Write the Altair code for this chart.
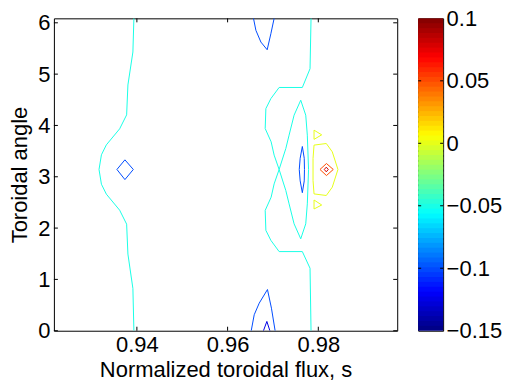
import altair as alt
import pandas as pd
import numpy as np

# ---- contour paths (s, toroidal angle) ----
left_cyan_s = [0.93934, 0.93912, 0.93802, 0.93774, 0.93620, 0.93327, 0.93218, 0.93165,
               0.93218, 0.93327, 0.93620, 0.93774, 0.93802, 0.93912, 0.93934]
left_cyan_t = [6.087, 5.431, 4.789, 4.206, 3.934, 3.622, 3.428, 3.142,
               2.855, 2.661, 2.349, 2.077, 1.494, 0.823, 0.0]

left_blue_s = [0.93560, 0.93736, 0.93921, 0.93736, 0.93560]
left_blue_t = [3.142, 3.330, 3.142, 2.945, 3.142]

top_blue_s = [0.96571, 0.96624, 0.96734, 0.96873, 0.96954, 0.97026]
top_blue_t = [6.087, 5.853, 5.625, 5.475, 5.787, 6.087]

bot_blue_s = [0.96521, 0.96587, 0.96697, 0.96879, 0.96967, 0.97048]
bot_blue_t = [0.0, 0.311, 0.537, 0.803, 0.439, 0.0]

bot_dark_s = [0.96791, 0.96866, 0.96932]
bot_dark_t = [0.0, 0.181, 0.0]

outer_cyan_s = [0.97840, 0.97818, 0.97648, 0.97136, 0.96954, 0.96844, 0.96829, 0.96960,
                0.97026, 0.97136, 0.97026, 0.96960, 0.96829, 0.96844, 0.96954, 0.97136,
                0.97648, 0.97818, 0.97840]
outer_cyan_t = [6.087, 5.106, 4.740, 4.740, 4.523, 4.328, 3.939, 3.681,
                3.422, 3.142, 2.861, 2.602, 2.345, 1.956, 1.761, 1.542,
                1.542, 1.217, 0.0]

lens_cyan_s = [0.97136, 0.97284, 0.97356, 0.97466, 0.97613, 0.97723, 0.97758, 0.97785,
               0.97758, 0.97723, 0.97613, 0.97466, 0.97356, 0.97284, 0.97136]
lens_cyan_t = [3.142, 3.551, 3.811, 4.200, 4.492, 4.200, 3.811, 3.142,
               2.472, 2.083, 1.791, 2.083, 2.472, 2.732, 3.142]

lens_blue_s = [0.97648, 0.97690, 0.97695, 0.97690, 0.97648, 0.97600, 0.97580, 0.97600, 0.97648]
lens_blue_t = [3.590, 3.360, 3.142, 2.920, 2.690, 2.920, 3.142, 3.360, 3.590]

yellow_s = [0.97906, 0.98176, 0.98308, 0.98433, 0.98308, 0.98176, 0.97906, 0.97884, 0.97884, 0.97906]
yellow_t = [3.617, 3.648, 3.486, 3.142, 2.797, 2.635, 2.666, 2.927, 3.356, 3.617]

ytri_top_s = [0.97906, 0.98075, 0.97906, 0.97906]
ytri_top_t = [3.908, 3.817, 3.729, 3.908]

ytri_bot_s = [0.97906, 0.98075, 0.97906, 0.97906]
ytri_bot_t = [2.547, 2.450, 2.372, 2.547]

orange_s = [0.98037, 0.98180, 0.98330, 0.98180, 0.98037]
orange_t = [3.142, 3.258, 3.142, 3.024, 3.142]

dred_s = [0.98132, 0.98176, 0.98220, 0.98176, 0.98132]
dred_t = [3.142, 3.187, 3.142, 3.096, 3.142]

paths = [
    ("left_cyan", -0.05, left_cyan_s, left_cyan_t),
    ("left_blue", -0.10, left_blue_s, left_blue_t),
    ("top_blue", -0.10, top_blue_s, top_blue_t),
    ("bot_blue", -0.10, bot_blue_s, bot_blue_t),
    ("bot_dark", -0.125, bot_dark_s, bot_dark_t),
    ("outer_cyan", -0.05, outer_cyan_s, outer_cyan_t),
    ("lens_cyan", -0.05, lens_cyan_s, lens_cyan_t),
    ("lens_blue", -0.10, lens_blue_s, lens_blue_t),
    ("yellow", 0.0, yellow_s, yellow_t),
    ("ytri_top", 0.0, ytri_top_s, ytri_top_t),
    ("ytri_bot", 0.0, ytri_bot_s, ytri_bot_t),
    ("orange", 0.05, orange_s, orange_t),
    ("dred", 0.08, dred_s, dred_t),
]

x_ticks = [0.94, 0.96, 0.98]
y_ticks = [0, 1, 2, 3, 4, 5, 6]
cb_ticks = [-0.15, -0.1, -0.05, 0, 0.05, 0.1]

rows = []
for name, lev, ss, tt in paths:
    for i, (s, t) in enumerate(zip(ss, tt)):
        rows.append({"path": name, "level": lev, "s": s, "theta": t, "idx": i})
df = pd.DataFrame(rows)

FONT = "Liberation Sans"
FS = 22
W, H = 344, 313
XDOM = [0.9217, 0.9974]
YDOM = [0, 6.087]
CDOM = [-0.15, -0.11875, -0.05625, 0.00625, 0.06875, 0.1]
CRANGE = ["#000080", "#0000ff", "#00ffff", "#ffff00", "#ff0000", "#800000"]

xs = alt.Scale(domain=XDOM, nice=False, zero=False)
ys = alt.Scale(domain=YDOM, nice=False, zero=False)
cs = alt.Scale(domain=CDOM, range=CRANGE, interpolate="rgb")

lines = alt.Chart(df).mark_line(strokeWidth=1, clip=True).encode(
    x=alt.X("s:Q", scale=xs, title="Normalized toroidal flux, s",
            axis=alt.Axis(values=x_ticks, format=".2f", ticks=False, domain=False, grid=False,
                          labelPadding=4, titlePadding=4)),
    y=alt.Y("theta:Q", scale=ys, title="Toroidal angle",
            axis=alt.Axis(values=y_ticks, format="d", ticks=False, domain=False, grid=False,
                          labelPadding=4, titlePadding=6)),
    color=alt.Color("level:Q", scale=cs, legend=None),
    detail="path:N",
    order="idx:Q",
)

xt = pd.DataFrame({"v": x_ticks})
yt = pd.DataFrame({"v": y_ticks})
tk = 4
xt_bot = alt.Chart(xt).mark_rule(color="black").encode(
    x=alt.X("v:Q", scale=xs), y=alt.value(H - tk), y2=alt.value(H))
xt_top = alt.Chart(xt).mark_rule(color="black").encode(
    x=alt.X("v:Q", scale=xs), y=alt.value(0), y2=alt.value(tk))
yt_left = alt.Chart(yt).mark_rule(color="black").encode(
    y=alt.Y("v:Q", scale=ys), x=alt.value(0), x2=alt.value(tk))
yt_right = alt.Chart(yt).mark_rule(color="black").encode(
    y=alt.Y("v:Q", scale=ys), x=alt.value(W - tk), x2=alt.value(W))

main = alt.layer(lines, xt_bot, xt_top, yt_left, yt_right).properties(width=W, height=H)

# ---- colorbar (jet colormap, 64 bands) ----
nb = 64
step = 0.25 / nb
cb_lo = [-0.15 + i * step for i in range(nb)]
cbdf = pd.DataFrame({"lo": cb_lo, "hi": [min(v + step * 1.6, 0.1) for v in cb_lo],
                     "mid": [v + step / 2 for v in cb_lo]})
CBW = 25
cys = alt.Scale(domain=[-0.15, 0.1], nice=False, zero=False)
bar = alt.Chart(cbdf).mark_rect().encode(
    y=alt.Y("lo:Q", scale=cys, title=None,
            axis=alt.Axis(orient="right", values=cb_ticks, format="~g", ticks=False, domain=False,
                          grid=False, labelPadding=3)),
    y2="hi:Q",
    x=alt.value(0), x2=alt.value(CBW),
    color=alt.Color("mid:Q", scale=cs, legend=None),
)
ct = pd.DataFrame({"v": cb_ticks[1:-1]})
cb_l = alt.Chart(ct).mark_rule(color="black").encode(
    y=alt.Y("v:Q", scale=cys), x=alt.value(0), x2=alt.value(3))
cb_r = alt.Chart(ct).mark_rule(color="black").encode(
    y=alt.Y("v:Q", scale=cys), x=alt.value(CBW - 3), x2=alt.value(CBW))
cbar = alt.layer(bar, cb_l, cb_r).properties(width=CBW, height=H)

chart = alt.hconcat(main, cbar, spacing=19).properties(
    padding={"left": 8, "top": 6, "right": 2, "bottom": 2},
    background="white",
).configure_view(stroke="black", strokeWidth=1).configure_axis(
    labelFont=FONT, titleFont=FONT, labelFontSize=FS, titleFontSize=FS,
    labelColor="black", titleColor="black", titleFontWeight="normal"
)

chart.save("out.html", embed_options={"renderer": "svg", "actions": False})
